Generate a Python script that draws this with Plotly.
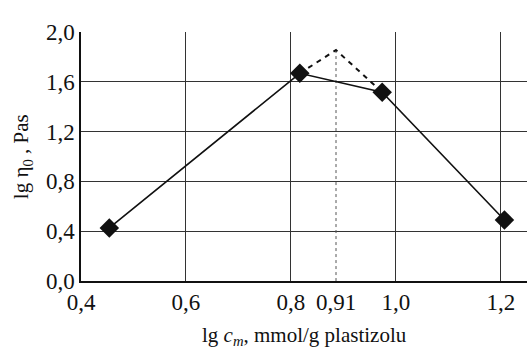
import plotly.graph_objects as go

# data
x_meas = [0.454, 0.817, 0.974, 1.207]
y_meas = [0.426, 1.668, 1.516, 0.49]
x_peak = 0.886
y_peak = 1.855
x_dash = [x_meas[1], x_peak, x_meas[2]]
y_dash = [y_meas[1], y_peak, y_meas[2]]
x_ticks = [0.4, 0.6, 0.8, x_peak, 1.0, 1.2]
x_ticklabels = ["0,4", "0,6", "0,8", "0,91", "1,0", "1,2"]
x_grid = [0.6, 0.8, 1.0, 1.2]
y_ticks = [0.0, 0.4, 0.8, 1.2, 1.6, 2.0]
y_ticklabels = ["0,0", "0,4", "0,8", "1,2", "1,6", "2,0"]

FONT = "Liberation Serif"
fig = go.Figure()

# dotted vertical line at the peak
fig.add_trace(go.Scatter(x=[x_peak, x_peak], y=[y_peak, 0], mode="lines",
                         line=dict(color="#555", width=1, dash="dot"), showlegend=False))
# dashed extrapolation
fig.add_trace(go.Scatter(x=x_dash, y=y_dash, mode="lines",
                         line=dict(color="#111", width=2, dash="5px,5px"), showlegend=False))
# measured line with markers
fig.add_trace(go.Scatter(x=x_meas, y=y_meas, mode="lines+markers",
                         line=dict(color="#111", width=1.6),
                         marker=dict(symbol="diamond", size=15, color="#111"),
                         showlegend=False))
# invisible trace for the grid axis
fig.add_trace(go.Scatter(x=[0.4], y=[0], xaxis="x2", mode="markers",
                         marker=dict(opacity=0), showlegend=False, hoverinfo="skip"))

fig.update_layout(
    template="none",
    width=527, height=349,
    margin=dict(l=81, r=0, t=32, b=68),
    paper_bgcolor="white", plot_bgcolor="white",
    font=dict(family=FONT, color="#111", size=23),
    xaxis=dict(range=[0.4, 1.25], tickvals=x_ticks, ticktext=x_ticklabels,
               automargin=False,
               showgrid=False, zeroline=False, showline=True, linecolor="#111",
               linewidth=1.5, ticks="", tickfont=dict(size=23, family=FONT)),
    xaxis2=dict(range=[0.4, 1.25], overlaying="x", tickvals=x_grid, automargin=False,
                showticklabels=False, showgrid=True, gridcolor="#333", gridwidth=1,
                zeroline=False, showline=False, ticks="", layer="below traces"),
    yaxis=dict(range=[0, 2.0], tickvals=y_ticks, ticktext=y_ticklabels,
               automargin=False,
               showgrid=True, gridcolor="#333", gridwidth=1,
               zeroline=False, showline=True, linecolor="#111", linewidth=1.5,
               ticks="", tickfont=dict(size=23, family=FONT)),
    annotations=[
        dict(text="lg <i>c<sub>m</sub></i>, mmol/g plastizolu", xref="paper", yref="paper",
             x=0.5, y=-0.222, xanchor="center", yanchor="middle", showarrow=False,
             font=dict(size=21, family=FONT, color="#111")),
        dict(text="lg η<sub>0</sub> , Pas", xref="paper", yref="paper",
             x=-0.132, y=0.498, xanchor="center", yanchor="middle", showarrow=False,
             textangle=-90, font=dict(size=21, family=FONT, color="#111")),
    ],
)

fig.write_html("out.html", config={"displayModeBar": False},
               post_script="document.body.style.margin='0';document.body.style.overflow='hidden';")
